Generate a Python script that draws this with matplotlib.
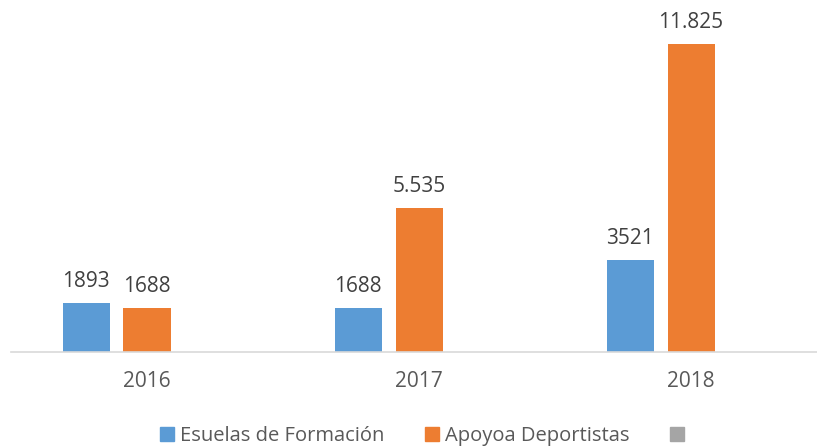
import matplotlib
matplotlib.use("Agg")
from matplotlib import pyplot as plt
from matplotlib.patches import Patch
import numpy as np

years = ["2016", "2017", "2018"]
escuelas = [1893, 1688, 3521]
apoyo = [1688, 5535, 11825]
escuelas_labels = ["1893", "1688", "3521"]
apoyo_labels = ["1688", "5.535", "11.825"]
series_names = ["Esuelas de Formación", "Apoyoa Deportistas", ""]

plt.rcParams["font.family"] = ["Open Sans", "DejaVu Sans"]

fig = plt.figure(figsize=(8.17, 4.48), dpi=100)
ax = fig.add_axes([11 / 817, 96 / 448, 806 / 817, 352 / 448])

x = np.arange(len(years))
w = 0.173
step = 0.224
blue = "#5B9BD5"
orange = "#ED7D31"
gray = "#A5A5A5"

b1 = ax.bar(x - step, escuelas, w, color=blue)
b2 = ax.bar(x, apoyo, w, color=orange)

# value labels above each bar
for bars, labels in [(b1, escuelas_labels), (b2, apoyo_labels)]:
    for rect, lab in zip(bars, labels):
        ax.annotate(lab, (rect.get_x() + rect.get_width() / 2, rect.get_height()),
                    xytext=(0, 11), textcoords="offset pixels",
                    ha="center", va="bottom", fontsize=15, color="#404040")

ax.set_xlim(-0.5, 2.463)
ax.set_ylim(0, 13513)
ax.set_yticks([])
ax.set_xticks(x)
ax.set_xticklabels(years, fontsize=15, color="#595959")
ax.tick_params(axis="x", length=0, pad=14)
for s in ["top", "right", "left"]:
    ax.spines[s].set_visible(False)
ax.spines["bottom"].set_color("#D9D9D9")
ax.spines["bottom"].set_linewidth(1.2)

handles = [Patch(color=blue), Patch(color=orange), Patch(color=gray)]
fig.legend(handles, series_names, loc="center", bbox_to_anchor=(425 / 817, 1 - 436 / 448),
           ncol=3, frameon=False, fontsize=14.5, labelcolor="#595959",
           handlelength=0.7, handleheight=0.7, handletextpad=0.3, columnspacing=2.0)

fig.savefig("out.png", dpi=100)
